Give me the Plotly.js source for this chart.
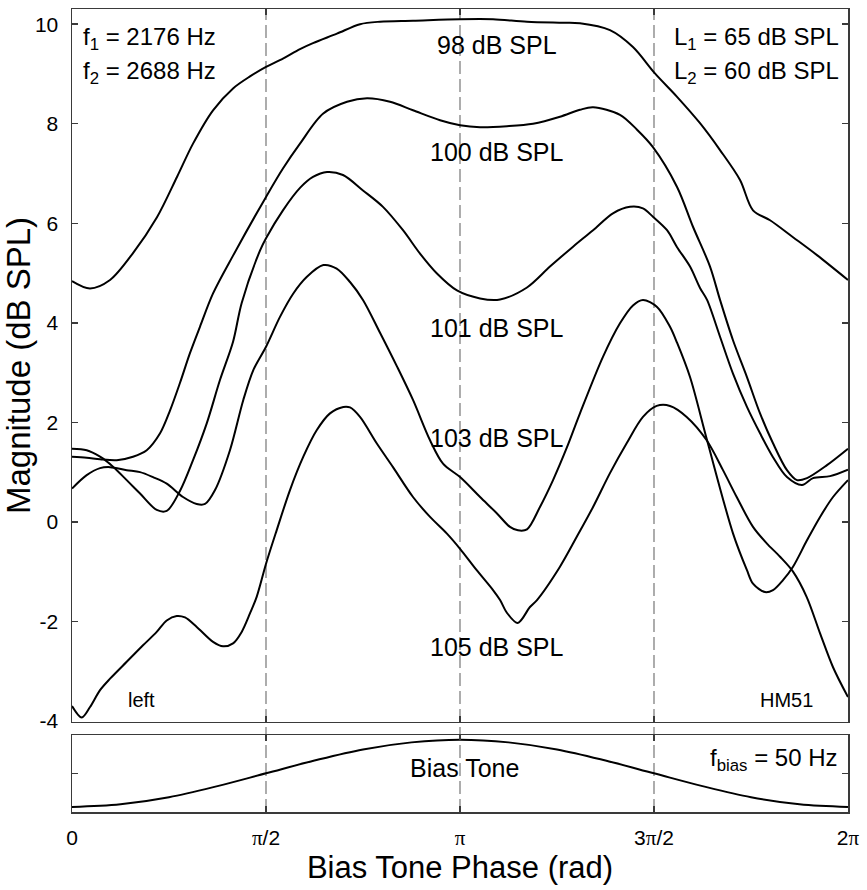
<!DOCTYPE html>
<html><head><meta charset="utf-8">
<script src="https://cdn.plot.ly/plotly-3.0.1.min.js"></script>
<style>html,body{margin:0;padding:0;background:#fff}</style>
</head><body><div id="chart" style="width:867px;height:890px"></div>
<script>
// ---- data (phase in rad, magnitude in dB SPL) ----
const x98  = [0,0.146,0.308,0.494,0.688,0.850,0.980,1.142,1.304,1.441,1.571,1.708,1.846,1.951,2.145,2.332,2.494,2.761,3.142,3.409,3.684,3.976,4.113,4.356,4.542,4.720,4.899,5.085,5.247,5.409,5.514,5.652,5.838,6.032,6.283];
const y98  = [4.84,4.69,4.86,5.40,6.12,6.93,7.60,8.27,8.71,8.95,9.14,9.31,9.50,9.62,9.81,10.00,10.05,10.07,10.10,10.10,10.05,10.03,10.02,9.88,9.54,9.01,8.54,8.01,7.47,6.87,6.26,6.06,5.72,5.36,4.86];

const x100 = [0,0.119,0.227,0.362,0.494,0.605,0.713,0.794,0.874,0.955,1.036,1.142,1.304,1.571,1.708,1.846,2.032,2.227,2.389,2.575,2.761,2.980,3.142,3.304,3.522,3.733,3.951,4.113,4.219,4.437,4.575,4.704,4.899,5.028,5.166,5.247,5.352,5.465,5.571,5.676,5.789,5.870,5.951,6.113,6.283];
const y100 = [1.31,1.29,1.26,1.24,1.31,1.44,1.78,2.24,2.79,3.39,3.92,4.59,5.35,6.53,7.10,7.60,8.20,8.44,8.51,8.44,8.27,8.07,7.97,7.93,7.95,8.00,8.14,8.28,8.33,8.18,7.88,7.53,6.73,5.93,5.13,4.46,3.65,2.91,2.18,1.58,1.04,0.84,0.88,1.14,1.47];

const x101 = [0,0.119,0.227,0.332,0.443,0.551,0.686,0.767,0.874,0.980,1.091,1.198,1.304,1.374,1.522,1.571,1.708,1.846,1.951,2.065,2.194,2.356,2.518,2.680,2.818,2.955,3.117,3.304,3.466,3.684,3.870,4.057,4.219,4.380,4.518,4.623,4.704,4.818,4.899,5.004,5.085,5.142,5.247,5.352,5.465,5.571,5.676,5.789,5.911,6.000,6.138,6.283];
const y101 = [1.47,1.44,1.31,1.11,0.84,0.57,0.24,0.22,0.62,1.24,1.98,2.85,3.62,4.40,5.45,5.70,6.26,6.71,6.93,7.03,6.97,6.66,6.33,5.86,5.39,4.99,4.65,4.49,4.47,4.71,5.13,5.53,5.86,6.20,6.33,6.30,6.13,5.86,5.52,5.13,4.70,4.46,3.72,2.98,2.31,1.78,1.30,0.90,0.74,0.88,0.92,1.05];

const x103 = [0,0.119,0.227,0.308,0.443,0.551,0.656,0.767,0.899,1.010,1.077,1.158,1.279,1.387,1.468,1.571,1.684,1.792,1.900,2.035,2.143,2.251,2.356,2.494,2.632,2.761,2.899,3.004,3.142,3.304,3.441,3.546,3.611,3.684,3.789,3.895,4.008,4.113,4.300,4.437,4.542,4.623,4.737,4.842,4.899,5.004,5.142,5.352,5.465,5.514,5.611,5.676,5.757,5.838,5.951,6.057,6.162,6.283];
const y103 = [0.67,0.94,1.08,1.10,1.04,1.00,0.90,0.77,0.50,0.36,0.36,0.64,1.44,2.45,3.05,3.52,4.12,4.59,4.92,5.16,5.09,4.82,4.46,3.80,3.12,2.45,1.64,1.17,0.90,0.50,0.17,-0.10,-0.17,-0.15,0.30,0.84,1.50,2.18,3.32,3.99,4.35,4.46,4.32,3.92,3.60,2.91,1.64,-0.23,-0.97,-1.24,-1.41,-1.37,-1.17,-0.90,-0.37,0.10,0.50,0.84];

const x105 = [0,0.079,0.146,0.227,0.308,0.443,0.575,0.686,0.767,0.848,0.915,1.010,1.142,1.223,1.304,1.374,1.441,1.496,1.571,1.657,1.765,1.873,1.981,2.089,2.197,2.251,2.332,2.467,2.599,2.761,2.899,3.034,3.142,3.277,3.409,3.466,3.520,3.609,3.708,3.765,3.951,4.087,4.219,4.356,4.491,4.623,4.734,4.842,4.977,5.139,5.271,5.382,5.514,5.625,5.733,5.838,5.949,6.057,6.162,6.283];
const y105 = [-3.70,-3.93,-3.72,-3.38,-3.15,-2.81,-2.48,-2.21,-1.98,-1.89,-1.92,-2.11,-2.41,-2.50,-2.44,-2.21,-1.84,-1.50,-0.84,-0.17,0.64,1.31,1.84,2.18,2.31,2.30,2.11,1.58,1.10,0.50,0.10,-0.23,-0.54,-0.97,-1.37,-1.57,-1.82,-2.03,-1.71,-1.57,-0.90,-0.30,0.30,0.98,1.58,2.11,2.33,2.33,2.11,1.64,1.04,0.50,-0.10,-0.43,-0.70,-1.00,-1.51,-2.24,-2.92,-3.52];

const xBias = [0,0.393,0.785,1.178,1.571,1.963,2.356,2.749,3.142,3.534,3.927,4.320,4.712,5.105,5.498,5.890,6.283];
const yBias = [-1.00,-0.92,-0.71,-0.38,0.00,0.38,0.71,0.92,1.00,0.92,0.71,0.38,0.00,-0.38,-0.71,-0.92,-1.00];

const seriesNames = ['98 dB SPL','100 dB SPL','101 dB SPL','103 dB SPL','105 dB SPL'];
const labelY = [9.58, 7.44, 3.89, 1.68, -2.51];
const labelX = 3.441;

const phaseTicks = [0, Math.PI/2, Math.PI, 3*Math.PI/2, 2*Math.PI];
const PI = '<span style="font-family:\'Liberation Serif\',serif">π</span>';
const phaseText = ['0', PI+'/2', PI, '3'+PI+'/2', '2'+PI];
const magTicks = [-4,-2,0,2,4,6,8,10];

// ---- traces ----
const FONT = 'Liberation Sans, Arial, sans-serif';
const lineStyle = {color:'#000', width:2, shape:'spline', smoothing:0.9};
const xs = [x98,x100,x101,x103,x105];
const ys = [y98,y100,y101,y103,y105];
const traces = xs.map((xx,i)=>({x:xx, y:ys[i], type:'scatter', mode:'lines', name:seriesNames[i],
  line:lineStyle, xaxis:'x', yaxis:'y', hoverinfo:'skip'}));
traces.push({x:xBias, y:yBias, type:'scatter', mode:'lines', name:'Bias Tone',
  line:{color:'#000', width:2, shape:'spline', smoothing:1}, xaxis:'x2', yaxis:'y2'});

const axCommon = {showline:true, linecolor:'#3a3a3a', linewidth:1.5, mirror:'ticks', ticks:'inside',
  ticklen:6, tickwidth:1.5, tickcolor:'#3a3a3a', showgrid:false, zeroline:false,
  tickfont:{family:FONT, size:21, color:'#000'}};

const shapes = phaseTicks.slice(1,4).map(v=>({type:'line', xref:'x', yref:'paper', x0:v, x1:v, y0:0, y1:1,
  line:{color:'#8a8a8a', width:1.4, dash:'13px,5px'}, layer:'below'}));

const ann = (text,x,y,opts={}) => Object.assign({text, x, y, xref:'x', yref:'y', showarrow:false,
  font:{family:FONT, size:25, color:'#000'}, xanchor:'center', yanchor:'middle'}, opts);

const annotations = [
  ann('f<sub>1</sub> = 2176 Hz', 0.073, 9.72, {xanchor:'left', font:{family:FONT, size:24, color:'#000'}}),
  ann('f<sub>2</sub> = 2688 Hz', 0.073, 9.02, {xanchor:'left', font:{family:FONT, size:24, color:'#000'}}),
  ann('L<sub>1</sub> = 65 dB SPL', 6.227, 9.72, {xanchor:'right', font:{family:FONT, size:24, color:'#000'}}),
  ann('L<sub>2</sub> = 60 dB SPL', 6.227, 9.02, {xanchor:'right', font:{family:FONT, size:24, color:'#000'}}),
  ...seriesNames.map((t,i)=>ann(t, labelX, labelY[i])),
  ann('left', 0.559, -3.58, {font:{family:FONT, size:20, color:'#000'}}),
  ann('HM51', 5.787, -3.58, {font:{family:FONT, size:20, color:'#000'}}),
  ann('Bias Tone', 3.182, 0.16, {yref:'y2'}),
  ann('f<sub>bias</sub> = 50 Hz', 6.218, 0.42, {yref:'y2', xanchor:'right', font:{family:FONT, size:24, color:'#000'}})
];

const layout = {
  width:867, height:890, margin:{l:72, r:19, t:9, b:78},
  paper_bgcolor:'#fff', plot_bgcolor:'#fff', showlegend:false,
  font:{family:FONT, color:'#000'},
  xaxis: Object.assign({}, axCommon, {domain:[0,1], anchor:'y', range:[0,2*Math.PI],
    tickvals:phaseTicks, showticklabels:false}),
  yaxis: Object.assign({}, axCommon, {domain:[0.1121,1], anchor:'x', range:[-4.02,10.305],
    tickvals:magTicks, ticktext:magTicks.map(String), ticklabelstandoff:8,
    title:{text:'Magnitude (dB SPL)', font:{family:FONT, size:33, color:'#000'}, standoff:6}}),
  xaxis2: Object.assign({}, axCommon, {domain:[0,1], anchor:'y2', range:[0,2*Math.PI], matches:'x',
    tickvals:phaseTicks, ticktext:phaseText, ticklabelstandoff:6,
    title:{text:'Bias Tone Phase (rad)', font:{family:FONT, size:31, color:'#000'}, standoff:4}}),
  yaxis2: Object.assign({}, axCommon, {domain:[0,0.0955], anchor:'x2', range:[-1.15,1.13],
    tickvals:[0], showticklabels:false}),
  shapes, annotations
};

Plotly.newPlot('chart', traces, layout, {displayModeBar:false, staticPlot:true});
</script></body></html>
